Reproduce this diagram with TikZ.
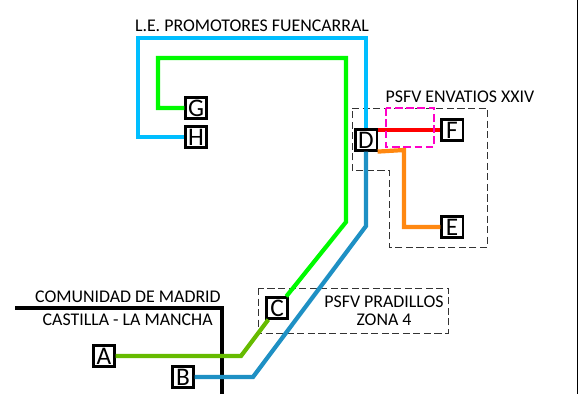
\documentclass[tikz,border=0pt]{standalone}
\usepackage{fontspec}
\setmainfont{Carlito}
\definecolor{lineA}{RGB}{102,187,0}
\definecolor{lineG}{RGB}{0,250,0}
\definecolor{lineB}{RGB}{30,144,196}
\definecolor{lineH}{RGB}{0,190,255}
\definecolor{lineE}{RGB}{255,136,17}
\definecolor{lineF}{RGB}{255,0,0}
\definecolor{feeder}{RGB}{255,0,200}
\begin{document}
\begin{tikzpicture}[x=0.025cm,y=-0.025cm,
		station/.style={draw, line width=1.5pt, fill=white, minimum size=15pt, inner sep=0pt, font=\fontsize{18}{18}\selectfont},
		rail/.style={line width=3pt},
		zone/.style={dash pattern=on 5pt off 2.5pt, line width=0.6pt, black!80},
		lbl/.style={font=\fontsize{12.7}{13}\selectfont, inner sep=0pt}]
		\useasboundingbox (0,0) rectangle (582,394);
		\draw [line width=0.6pt] (577,0) -- (577,394);
		\draw [zone] (258,288) rectangle (448,333);
		\draw [zone] (352,108) -- (487,108) -- (487,247) -- (389,247) -- (389,170) -- (352,170) -- cycle;
		\draw [line width=2.2pt] (15,308) -- (222,308) -- (222,394);
		\node [lbl, anchor=east] (madrid) at (221,297) {COMUNIDAD DE MADRID};
		\node [lbl, anchor=east] (mancha) at (213,320) {CASTILLA - LA MANCHA};
		\node [lbl] (fuencarral) at (252,26) {L.E. PROMOTORES FUENCARRAL};
		\node [lbl] (envatios) at (460,97) {PSFV ENVATIOS XXIV};
		\node [lbl, align=center] (pradillos) at (384,311) {PSFV PRADILLOS\\ZONA 4};
		\node [station] (A) at (104,356) {A};
		\node [station] (B) at (183,377) {B};
		\node [station] (C) at (277,308) {C};
		\node [station] (D) at (366,140) {D};
		\node [station] (E) at (452,227) {E};
		\node [station] (F) at (452,130) {F};
		\node [station] (G) at (196,108) {G};
		\node [station] (H) at (196,137) {H};
		\draw [rail, lineA] (A) -- (241,356) -- (C);
		\draw [rail, lineG] (C) -- (346,222) -- (346,58) -- (158,58) -- (158,108) -- (G);
		\draw [rail, lineB] (B) -- (253,377) -- (366,226) -- (D);
		\draw [rail, lineH] (D) -- (366,38) -- (138,38) -- (138,137) -- (H);
		\draw [rail, lineF] (D.east |- F) -- (F);
		\draw [rail, lineE] (D.south east) -- (404,150) |- (E);
		\draw [feeder, line width=1.5pt, dash pattern=on 5.5pt off 2.5pt] (386,108) rectangle (434,147);
	\end{tikzpicture}
\end{document}
